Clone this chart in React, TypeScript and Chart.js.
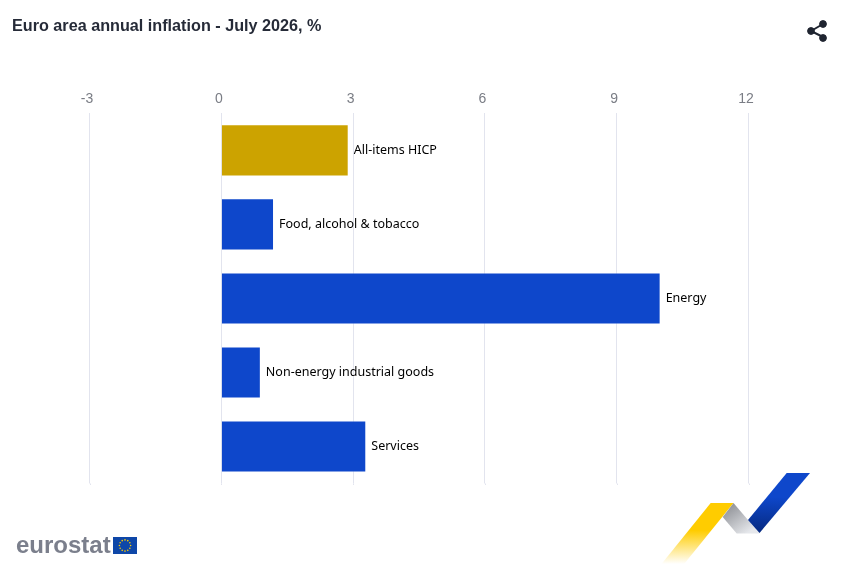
import React, { useEffect, useRef } from "react";
import { Chart, registerables } from "chart.js";

Chart.register(...registerables);

const categories = ["All-items HICP", "Food, alcohol & tobacco", "Energy", "Non-energy industrial goods", "Services"];
const values = [2.9, 1.2, 10.0, 0.9, 3.3];
const barColors = ["#cca300", "#0e47cb", "#0e47cb", "#0e47cb", "#0e47cb"];
const titleText = "Euro area annual inflation - July 2026, %";
const axisMin = -3;
const axisMax = 12;
const axisStep = 3;

const barLabels = {
  id: "barLabels",
  beforeDatasetsDraw(chart: any) {
    const { ctx, chartArea, scales } = chart;
    ctx.save();
    ctx.strokeStyle = "#e2e4ee";
    ctx.lineWidth = 1;
    scales.x.ticks.forEach((t: any) => {
      const x = Math.round(scales.x.getPixelForValue(t.value)) + 0.5;
      ctx.beginPath();
      ctx.moveTo(x, chartArea.bottom);
      ctx.lineTo(x, chartArea.bottom + 1.5);
      ctx.stroke();
    });
    ctx.restore();
  },
  afterDatasetsDraw(chart: any) {
    const { ctx } = chart;
    const meta = chart.getDatasetMeta(0);
    ctx.save();
    ctx.font = "12.5px 'Noto Sans'";
    ctx.fillStyle = "#000000";
    ctx.textAlign = "left";
    ctx.textBaseline = "middle";
    meta.data.forEach((el: any, i: number) => {
      ctx.fillText(categories[i], el.x + 5, el.y);
    });
    ctx.restore();
  },
};

const starAngles = [0, 30, 60, 90, 120, 150, 180, 210, 240, 270, 300, 330];

function Logo() {
  return (
    <svg width={847} height={569} style={{ position: "absolute", left: 0, top: 0, pointerEvents: "none" }}>
      <defs>
        <linearGradient id="yg" x1="0" y1="564" x2="0" y2="503" gradientUnits="userSpaceOnUse">
          <stop offset="0" stopColor="#ffffff" />
          <stop offset="0.55" stopColor="#ffcc00" />
          <stop offset="1" stopColor="#ffcc00" />
        </linearGradient>
        <linearGradient id="gg" x1="728" y1="505" x2="748" y2="533" gradientUnits="userSpaceOnUse">
          <stop offset="0" stopColor="#8f9196" />
          <stop offset="1" stopColor="#e6e8ec" />
        </linearGradient>
        <linearGradient id="bg" x1="0" y1="533" x2="0" y2="473" gradientUnits="userSpaceOnUse">
          <stop offset="0" stopColor="#06297f" />
          <stop offset="0.6" stopColor="#0e47cb" />
          <stop offset="1" stopColor="#0e47cb" />
        </linearGradient>
      </defs>
      <polygon points="710.7,503 733.5,503 683.3,565 660.7,565" fill="url(#yg)" />
      <polygon points="733.5,503 759.5,533.5 736.7,533.5 722.7,517" fill="url(#gg)" />
      <polygon points="786.7,473 810,473 759.5,533 748,520" fill="url(#bg)" />
      <text x={16} y={553} fontFamily="'Liberation Sans'" fontWeight="bold" fontSize={24} fill="#7b7f8c">eurostat</text>
      <rect x={113} y={537} width={24} height={17} fill="#0e47a8" />
      {starAngles.map((a) => (
        <circle
          key={a}
          cx={125 + 5.6 * Math.cos((a * Math.PI) / 180)}
          cy={545.5 + 5.6 * Math.sin((a * Math.PI) / 180)}
          r={0.8}
          fill="#ffcc00"
        />
      ))}
      <g fill="#1f2430" stroke="#1f2430">
        <line x1={811} y1={31} x2={823} y2={24} strokeWidth={2} />
        <line x1={811} y1={31} x2={823} y2={37} strokeWidth={2} />
        <circle cx={811} cy={31} r={3.4} />
        <circle cx={823} cy={24} r={3.4} />
        <circle cx={823} cy={38} r={3.4} />
      </g>
    </svg>
  );
}

export default function App() {
  const ref = useRef<HTMLCanvasElement>(null);
  useEffect(() => {
    document.body.style.margin = "0";
    const chart = new Chart(ref.current!, {
      type: "bar",
      data: {
        labels: categories,
        datasets: [
          {
            data: values,
            backgroundColor: barColors,
            borderColor: "rgba(255,255,255,0.5)",
            borderWidth: 1,
            categoryPercentage: 1,
            barPercentage: 0.705,
          },
        ],
      },
      options: {
        indexAxis: "y",
        animation: false,
        responsive: false,
        layout: { padding: { left: 12, right: 98.5, top: 17, bottom: 85.5 } },
        plugins: {
          legend: { display: false },
          tooltip: { enabled: false },
          title: {
            display: true,
            text: titleText,
            align: "start",
            color: "#262b38",
            font: { family: "'Liberation Sans'", size: 16.2, weight: "bold" },
            padding: { top: 0, bottom: 0 },
          },
        },
        scales: {
          x: {
            position: "top",
            min: axisMin,
            max: axisMax,
            ticks: {
              stepSize: axisStep,
              color: "#7a7d85",
              font: { family: "'Liberation Sans'", size: 14 },
              labelOffset: -2.5,
              maxRotation: 0,
              padding: 6,
            },
            grid: { color: "#e2e4ee", lineWidth: 1, drawTicks: false },
            border: { display: false },
            afterFit(scale: any) {
              scale.height = 77;
            },
          },
          y: {
            ticks: { display: false },
            grid: { display: false },
            border: { display: false },
            afterFit(scale: any) {
              scale.width = 77.5;
            },
          },
        },
      },
      plugins: [barLabels],
    } as any);
    return () => chart.destroy();
  }, []);
  return (
    <div style={{ position: "relative", width: 847, height: 569, background: "#ffffff" }}>
      <canvas ref={ref} width={847} height={569} style={{ display: "block" }} />
      <Logo />
    </div>
  );
}
